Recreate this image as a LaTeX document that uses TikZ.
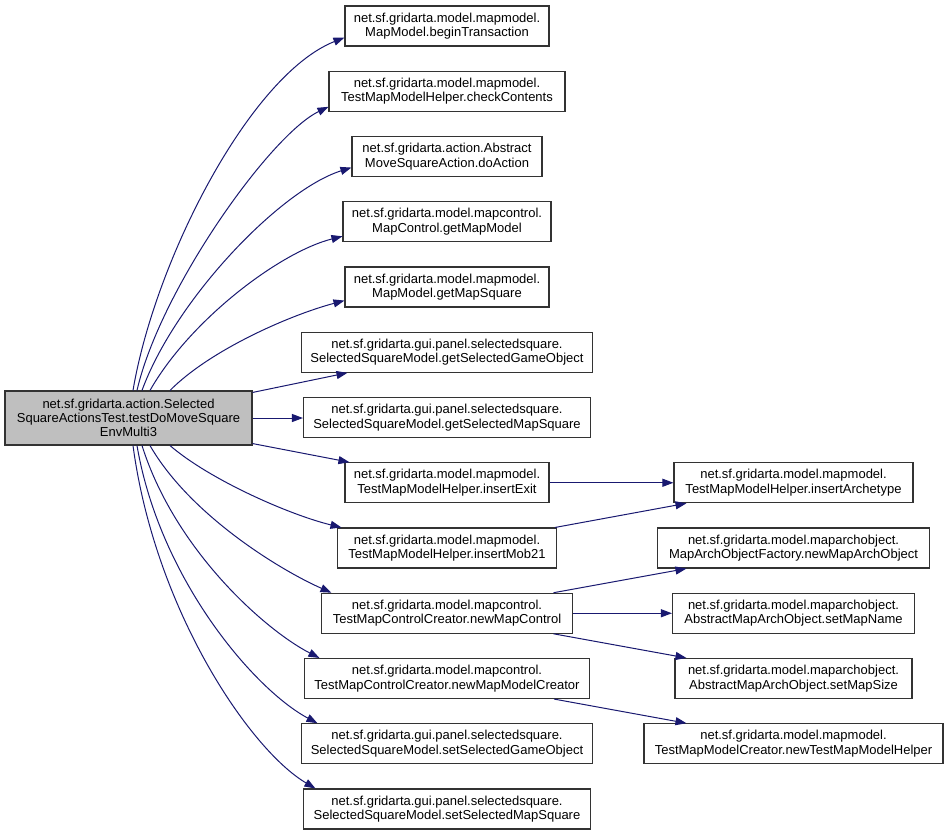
\documentclass[tikz,border=0pt]{standalone}
\usepackage{fontspec}
\setmainfont{Liberation Sans}
\usetikzlibrary{arrows.meta}
\definecolor{edgeblue}{HTML}{191970}
\definecolor{boxline}{HTML}{333333}
\definecolor{rootfill}{HTML}{BFBFBF}
\begin{document}
\begin{tikzpicture}[x=1pt,y=-1pt,
  box/.style={draw=boxline, line width=1.1pt, fill=white, align=center, inner xsep=3pt, inner ysep=2pt,
    minimum height=40pt, font=\fontsize{13}{14.3}\selectfont},
  rootbox/.style={box, fill=rootfill, minimum height=54pt},
  call/.style={draw=edgeblue, line width=1pt, -{Triangle[length=11pt,width=8pt]}}]
\useasboundingbox (0,0) rectangle (949,836);
% root
\node[rootbox, minimum width=247pt] (root) at (128.5,418) {net.sf.gridarta.action.Selected\\SquareActionsTest.testDoMoveSquare\\EnvMulti3};
% middle column
\node[box, minimum width=204pt] (n1) at (447,26) {net.sf.gridarta.model.mapmodel.\\MapModel.beginTransaction};
\node[box, minimum width=236pt] (n2) at (447,91.25) {net.sf.gridarta.model.mapmodel.\\TestMapModelHelper.checkContents};
\node[box, minimum width=190pt] (n3) at (447,156.5) {net.sf.gridarta.action.Abstract\\MoveSquareAction.doAction};
\node[box, minimum width=208pt] (n4) at (447,221.75) {net.sf.gridarta.model.mapcontrol.\\MapControl.getMapModel};
\node[box, minimum width=204pt] (n5) at (447,287) {net.sf.gridarta.model.mapmodel.\\MapModel.getMapSquare};
\node[box, minimum width=291pt] (n6) at (447,352.25) {net.sf.gridarta.gui.panel.selectedsquare.\\SelectedSquareModel.getSelectedGameObject};
\node[box, minimum width=287pt] (n7) at (447,417.5) {net.sf.gridarta.gui.panel.selectedsquare.\\SelectedSquareModel.getSelectedMapSquare};
\node[box, minimum width=204pt] (n8) at (447,482.75) {net.sf.gridarta.model.mapmodel.\\TestMapModelHelper.insertExit};
\node[box, minimum width=219pt] (n9) at (447,548) {net.sf.gridarta.model.mapmodel.\\TestMapModelHelper.insertMob21};
\node[box, minimum width=251pt] (n10) at (447,613.25) {net.sf.gridarta.model.mapcontrol.\\TestMapControlCreator.newMapControl};
\node[box, minimum width=285pt] (n11) at (447,678.5) {net.sf.gridarta.model.mapcontrol.\\TestMapControlCreator.newMapModelCreator};
\node[box, minimum width=291pt] (n12) at (447,743.75) {net.sf.gridarta.gui.panel.selectedsquare.\\SelectedSquareModel.setSelectedGameObject};
\node[box, minimum width=287pt] (n13) at (447,809) {net.sf.gridarta.gui.panel.selectedsquare.\\SelectedSquareModel.setSelectedMapSquare};
% right column
\node[box, minimum width=239pt] (r1) at (793.5,482.75) {net.sf.gridarta.model.mapmodel.\\TestMapModelHelper.insertArchetype};
\node[box, minimum width=272pt] (r2) at (793.5,548) {net.sf.gridarta.model.maparchobject.\\MapArchObjectFactory.newMapArchObject};
\node[box, minimum width=242pt] (r3) at (793.5,613.25) {net.sf.gridarta.model.maparchobject.\\AbstractMapArchObject.setMapName};
\node[box, minimum width=237pt] (r4) at (793.5,678.5) {net.sf.gridarta.model.maparchobject.\\AbstractMapArchObject.setMapSize};
\node[box, minimum width=299pt] (r5) at (793.5,743.75) {net.sf.gridarta.model.mapmodel.\\TestMapModelCreator.newTestMapModelHelper};
% edges from root, upward
\draw[call] ([xshift=4.5pt]root.north) .. controls (155,260) and (250,75) .. ([yshift=9pt]n1.south west);
\draw[call] ([xshift=8.5pt]root.north) .. controls (160,290) and (270,135) .. ([yshift=5pt]n2.south west);
\draw[call] ([xshift=13.5pt]root.north) .. controls (175,300) and (280,190) .. ([yshift=9.5pt]n3.south west);
\draw[call] ([xshift=21.5pt]root.north) .. controls (190,320) and (280,252) .. ([yshift=6pt]n4.south west);
\draw[call] ([xshift=41.5pt]root.north) .. controls (210,350) and (290,315) .. ([yshift=7pt]n5.south west);
\draw[call] ([yshift=-2pt]root.north east) -- ([xshift=46.5pt]n6.south west);
\draw[call] (root.east) -- (root.east -| n7.west);
\draw[call] ([yshift=2pt]root.south east) -- ([xshift=5pt]n8.north west);
% edges from root, downward
\draw[call] ([xshift=41.5pt]root.south) .. controls (210,480) and (290,515) .. ([xshift=4.5pt]n9.north west);
\draw[call] ([xshift=21.5pt]root.south) .. controls (190,515) and (280,570) .. ([xshift=10.5pt]n10.north west);
\draw[call] ([xshift=13.5pt]root.south) .. controls (175,550) and (265,630) .. ([xshift=15.5pt]n11.north west);
\draw[call] ([xshift=8.5pt]root.south) .. controls (160,580) and (255,690) .. ([xshift=16.5pt]n12.north west);
\draw[call] ([xshift=4.5pt]root.south) .. controls (155,610) and (250,750) .. ([xshift=12.5pt]n13.north west);
% second level
\draw[call] (n8.east) -- (r1.west);
\draw[call] ([xshift=-2pt]n9.north east) -- ([xshift=13pt]r1.south west);
\draw[call] ([xshift=-19.5pt]n10.north east) -- ([xshift=29.5pt]r2.south west);
\draw[call] (n10.east) -- (r3.west);
\draw[call] ([xshift=-19.5pt]n10.south east) -- ([xshift=12pt]r4.north west);
\draw[call] ([xshift=-36pt]n11.south east) -- ([xshift=43pt]r5.north west);
\end{tikzpicture}
\end{document}
